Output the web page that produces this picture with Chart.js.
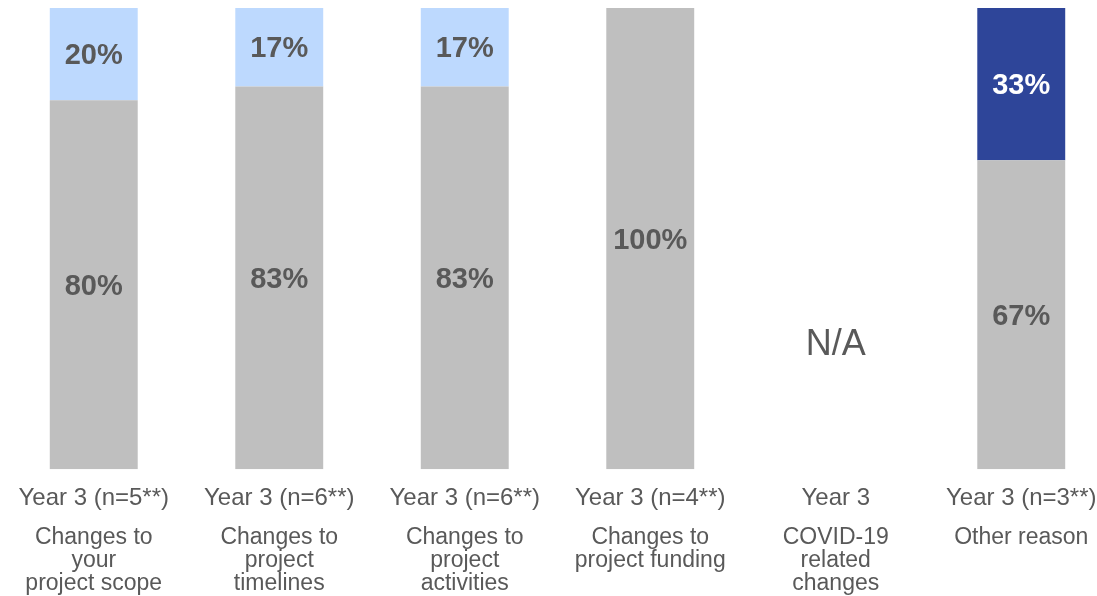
<!DOCTYPE html>
<html>
<head>
<meta charset="utf-8">
<script src="https://cdn.jsdelivr.net/npm/chart.js@4"></script>
<style>
  html, body { margin: 0; padding: 0; background: #fff; overflow: hidden; }
  #wrap { position: relative; width: 1114px; height: 596px; }
</style>
</head>
<body>
<div id="wrap"><canvas id="myChart"></canvas></div>
<script>
// data
const yearLabels = ["Year 3 (n=5**)", "Year 3 (n=6**)", "Year 3 (n=6**)", "Year 3 (n=4**)", "Year 3", "Year 3 (n=3**)"];
const categoryNames = [
	["Changes to", "your", "project scope"],
	["Changes to", "project", "timelines"],
	["Changes to", "project", "activities"],
	["Changes to", "project funding"],
	["COVID-19", "related", "changes"],
	["Other reason"]
];
const grayValues = [80, 83, 83, 100, null, 67];
const lightValues = [20, 17, 17, null, null, null];
const darkValues = [null, null, null, null, null, 33];
const naIndex = 4;

const textGray = "#595959";

const valueLabels = {
	id: "valueLabels",
	afterDatasetsDraw(chart) {
		const ctx = chart.ctx;
		ctx.save();
		ctx.textAlign = "center";
		ctx.textBaseline = "middle";
		ctx.font = "bold 29px 'Liberation Sans', Arial, sans-serif";
		chart.data.datasets.forEach((ds, di) => {
			const meta = chart.getDatasetMeta(di);
			meta.data.forEach((bar, i) => {
				const v = ds.data[i];
				if (v == null) return;
				ctx.fillStyle = ds.labelColor;
				const mid = (bar.y + bar.base) / 2;
				ctx.fillText(v + "%", bar.x, mid + 2);
			});
		});
		// N/A
		const xs = chart.scales.x, ys = chart.scales.y;
		ctx.font = "36px 'Liberation Sans', Arial, sans-serif";
		ctx.fillStyle = textGray;
		ctx.fillText("N/A", xs.getPixelForValue(naIndex), ys.getPixelForValue(27));
		// category names under the year labels
		ctx.font = "23px 'Liberation Sans', Arial, sans-serif";
		categoryNames.forEach((lines, i) => {
			const x = xs.getPixelForValue(i);
			lines.forEach((t, k) => {
				ctx.fillText(t, x, chart.chartArea.bottom + 68 + k * 23);
			});
		});
		ctx.restore();
	}
};

const config = {
	type: "bar",
	data: {
		labels: yearLabels,
		datasets: [
			{ label: "gray", data: grayValues, backgroundColor: "#BFBFBF", labelColor: textGray },
			{ label: "light", data: lightValues, backgroundColor: "#BDD9FE", labelColor: textGray },
			{ label: "dark", data: darkValues, backgroundColor: "#2E4599", labelColor: "#FFFFFF" }
		]
	},
	options: {
		responsive: true,
		maintainAspectRatio: false,
		animation: false,
		layout: { padding: { top: 8, bottom: 68, left: 1, right: 0 } },
		datasets: { bar: { barPercentage: 0.474, categoryPercentage: 1.0 } },
		plugins: { legend: { display: false }, tooltip: { enabled: false } },
		scales: {
			x: {
				stacked: true,
				grid: { display: false, drawTicks: false },
				border: { display: false },
				ticks: {
					color: textGray,
					padding: 15,
					maxRotation: 0,
					autoSkip: false,
					font: { family: "'Liberation Sans', Arial, sans-serif", size: 24 }
				}
			},
			y: {
				stacked: true,
				display: false,
				min: 0,
				max: 100
			}
		}
	},
	plugins: [valueLabels]
};

new Chart(document.getElementById("myChart").getContext("2d"), config);
</script>
</body>
</html>
